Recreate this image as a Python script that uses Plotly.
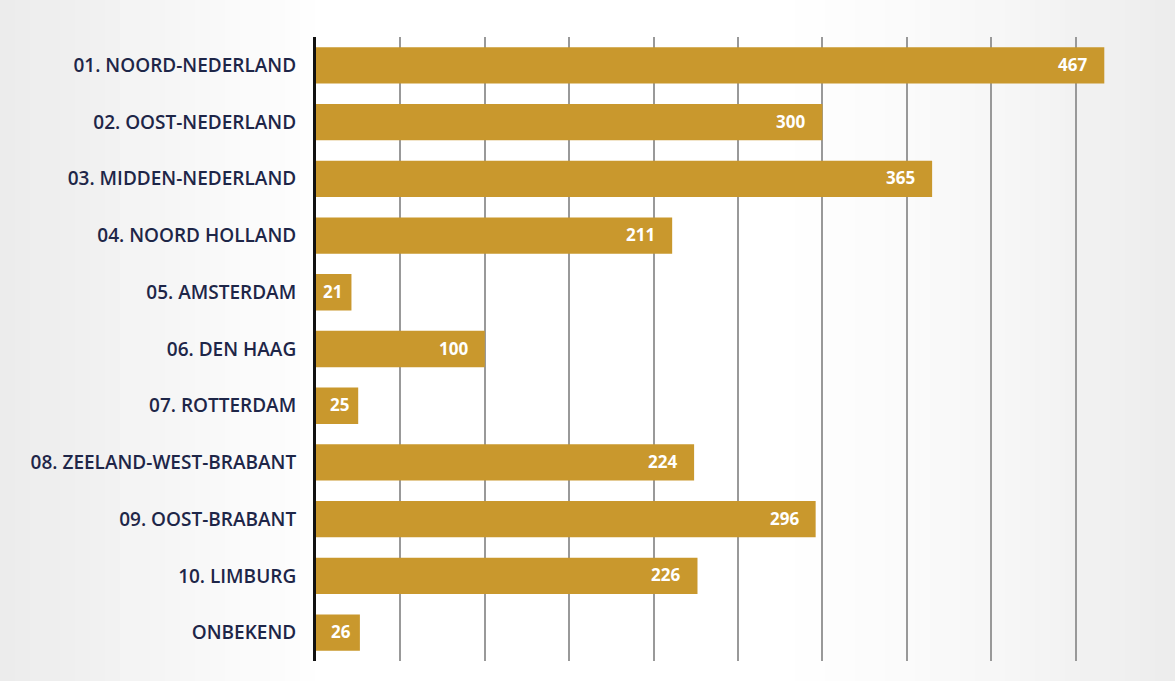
import plotly.graph_objects as go

categories = [
    "01. NOORD-NEDERLAND", "02. OOST-NEDERLAND", "03. MIDDEN-NEDERLAND",
    "04. NOORD HOLLAND", "05. AMSTERDAM", "06. DEN HAAG", "07. ROTTERDAM",
    "08. ZEELAND-WEST-BRABANT", "09. OOST-BRABANT", "10. LIMBURG", "ONBEKEND",
]
values = [467, 300, 365, 211, 21, 100, 25, 224, 296, 226, 26]

bar_color = "#C9982D"
W, H = 1175, 681
L, R, T, B = 316, 15, 37, 20

fig = go.Figure(go.Bar(
    y=categories, x=values, orientation="h",
    marker=dict(color=bar_color, line=dict(width=0)),
    width=0.64,
    hoverinfo="x+y",
))

# value labels inside the bar ends
annotations = [
    dict(x=v, y=c, xref="x", yref="y", text=f"<b>{v}</b>", showarrow=False,
         xanchor="right", xshift=(-15 if v > 50 else -7), yshift=1,
         font=dict(color="white", size=17, family="Open Sans"))
    for c, v in zip(categories, values)
]

# photo-like background shading (page-pixel strips converted to paper units)
pw = W - L - R
ph = H - T - B
def px2paper(px):
    return (px - L) / pw

def shade_at(px):
    if px < 330:
        return 0.15 * (1 - px / 330) ** 1.1
    if px > 780:
        return 0.14 * ((px - 780) / (W - 780)) ** 1.3
    return 0.0

shapes = []
step = 15
for px in range(0, W, step):
    s = shade_at(px + step / 2)
    if s <= 0.003:
        continue
    shapes.append(dict(type="rect", xref="paper", yref="paper",
                       x0=px2paper(px), x1=px2paper(px + step),
                       y0=-B / ph, y1=1 + T / ph,
                       fillcolor="#7a7a7a", opacity=s, line=dict(width=0), layer="below"))

fig.update_layout(
    width=W, height=H,
    margin=dict(l=L, r=R, t=T, b=B),
    paper_bgcolor="#ffffff",
    plot_bgcolor="rgba(0,0,0,0)",
    showlegend=False,
    shapes=shapes,
    annotations=annotations,
    xaxis=dict(range=[0, 500], dtick=50, showticklabels=False, showgrid=True,
               gridcolor="#999999", gridwidth=1.5, zeroline=False, showline=False),
    yaxis=dict(categoryorder="array", categoryarray=categories, autorange="reversed",
               tickfont=dict(color="#1e2648", size=19, family="Open Sans", weight=600),
               ticks="outside", ticklen=13, tickcolor="rgba(0,0,0,0)",
               showline=True, linecolor="#111111", linewidth=3, showgrid=False),
    font=dict(family="Open Sans"),
)

fig.write_html("out.html", config={"displayModeBar": False},
               post_script="document.body.style.margin='0';document.body.style.overflow='hidden';")
